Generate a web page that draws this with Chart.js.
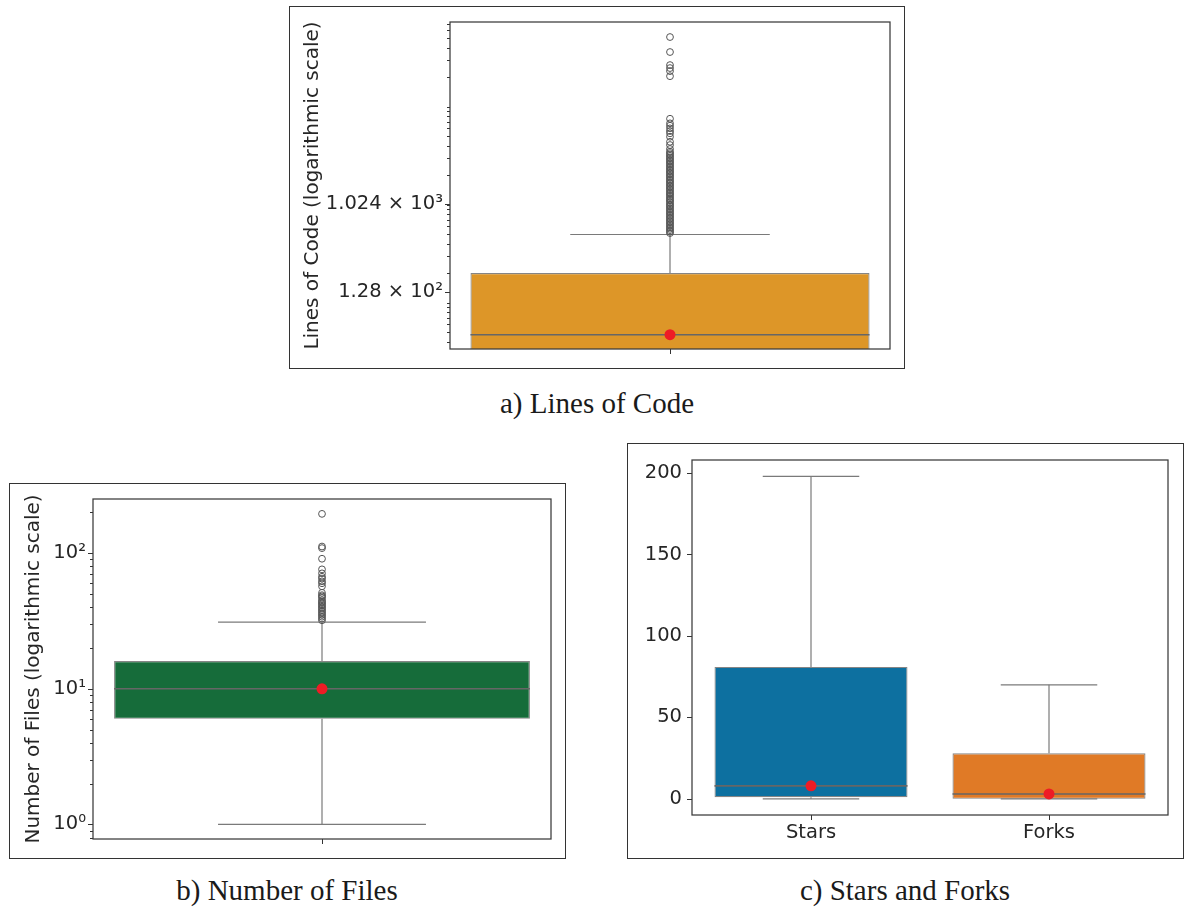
<!DOCTYPE html>
<html>
<head>
<meta charset="utf-8">
<script src="https://cdn.jsdelivr.net/npm/chart.js@4.4.1/dist/chart.umd.min.js"></script>
<style>
  body { margin: 0; width: 1185px; height: 907px; background: #fff; position: relative; overflow: hidden; }
  .frame { position: absolute; border: 1.5px solid #333; box-sizing: border-box; }
  canvas { position: absolute; }
  .cap { position: absolute; font-family: 'Liberation Serif', 'Times New Roman', serif; font-size: 29px;
         color: #1a1a1a; transform: translateX(-50%); white-space: nowrap; line-height: 29px; }
</style>
</head>
<body>
<div class="frame" style="left:289px;top:6px;width:616px;height:363px"></div>
<canvas id="locChart" width="616" height="363" style="left:289px;top:6px"></canvas>
<div class="cap" style="left:597px;top:389px">a) Lines of Code</div>

<div class="frame" style="left:9px;top:483px;width:557px;height:376px"></div>
<canvas id="filesChart" width="557" height="376" style="left:9px;top:483px"></canvas>
<div class="cap" style="left:287px;top:876px">b) Number of Files</div>

<div class="frame" style="left:627px;top:443px;width:557px;height:416px"></div>
<canvas id="starsChart" width="557" height="416" style="left:627px;top:443px"></canvas>
<div class="cap" style="left:905px;top:876px">c) Stars and Forks</div>

<script>
// ---- a) Lines of Code (log axis) ----
const locLabels = [' '];
const locQ1 = [16];
const locQ3 = [200];
const locMedian = [47];
const locMean = [47];
const locLow = [1];
const locHigh = [495];
const locOutliers = [51200, 36000, 26500, 24700, 23000, 20400,
  7510, 6740, 6370, 5990, 5630, 5330, 4920, 4370, 4050, 3690, 3460,
  3350, 3240, 3130, 3020, 2920, 2820, 2730, 2640, 2550, 2460, 2380, 2300, 2220, 2150,
  2080, 2010, 1940, 1880, 1810, 1750, 1690, 1640, 1580, 1530, 1480, 1430, 1380, 1330,
  1290, 1250, 1200, 1160, 1120, 1090, 1050, 1010, 980, 950, 915, 885, 855, 825, 800,
  770, 745, 720, 695, 672, 650, 628, 607, 586, 567, 548, 530, 512];
const locTicks = [40, 50, 60, 70, 80, 90, 100, 128, 200, 300, 400, 500, 600, 700, 800, 900,
  1000, 1024, 2000, 3000, 4000, 5000, 6000, 7000, 8000, 9000, 10000, 20000, 30000, 40000,
  50000, 60000, 70000];
const locTickLabels = { 128: '1.28 × 10²', 1024: '1.024 × 10³' };

// ---- b) Number of Files (log axis) ----
const filesLabels = [' '];
const filesQ1 = [6];
const filesQ3 = [16];
const filesMedian = [10];
const filesMean = [10];
const filesLow = [1];
const filesHigh = [31];
const filesOutliers = [195, 112, 109, 91, 76, 71, 67, 65, 62, 60, 57, 51, 49, 48, 47, 45, 44,
  43, 42, 41, 40, 39, 38, 37, 36, 35, 34, 33, 32];
const filesTicks = [0.8, 0.9, 1, 2, 3, 4, 5, 6, 7, 8, 9, 10, 20, 30, 40, 50, 60, 70, 80, 90, 100, 200];
const filesTickLabels = { 1: '10⁰', 10: '10¹', 100: '10²' };

// ---- c) Stars and Forks ----
const repoLabels = ['Stars', 'Forks'];
const repoQ1 = [1, 0];
const repoQ3 = [81, 28];
const repoMedian = [8, 3];
const repoMean = [8, 3];
const repoLow = [0, 0];
const repoHigh = [198, 70];
const repoTicks = [0, 50, 100, 150, 200];

const textColor = '#262626';
const font = (size) => ({ family: 'DejaVu Sans', size: size });

function line(ctx, x1, y1, x2, y2) {
  ctx.beginPath();
  ctx.moveTo(x1, y1);
  ctx.lineTo(x2, y2);
  ctx.stroke();
}

// whiskers, caps and median, drawn right after the boxes
function boxParts(st) {
  return {
    id: 'boxParts',
    afterDatasetDraw(chart, args) {
      if (args.index !== 0) return;
      const ctx = chart.ctx, y = chart.scales.y, a = chart.chartArea;
      ctx.save();
      ctx.beginPath();
      ctx.rect(a.left, a.top, a.right - a.left, a.bottom - a.top);
      ctx.clip();
      args.meta.data.forEach((bar, i) => {
        const half = bar.width / 2, cap = bar.width / 4;
        const yHi = y.getPixelForValue(st.high[i]);
        const yLo = y.getPixelForValue(st.low[i]);
        const yQ3 = y.getPixelForValue(st.q3[i]);
        const yQ1 = y.getPixelForValue(st.q1[i]);
        const yMed = y.getPixelForValue(st.median[i]);
        ctx.strokeStyle = '#7a7a7a';
        ctx.lineWidth = 1.2;
        line(ctx, bar.x, yQ3, bar.x, yHi);
        line(ctx, bar.x - cap, yHi, bar.x + cap, yHi);
        line(ctx, bar.x, yQ1, bar.x, yLo);
        line(ctx, bar.x - cap, yLo, bar.x + cap, yLo);
        ctx.strokeStyle = '#666';
        ctx.lineWidth = 1.6;
        line(ctx, bar.x - half, yMed, bar.x + half, yMed);
      });
      ctx.restore();
    }
  };
}

// tick marks (major / minor) and the four spines
const axisMarks = {
  id: 'axisMarks',
  afterDraw(chart) {
    const ctx = chart.ctx, a = chart.chartArea, y = chart.scales.y, x = chart.scales.x;
    ctx.save();
    ctx.strokeStyle = '#333';
    ctx.lineWidth = 1;
    y.ticks.forEach(t => {
      const py = Math.round(y.getPixelForValue(t.value)) + 0.5;
      const len = t.label ? 5 : 3;
      line(ctx, a.left - len, py, a.left, py);
    });
    x.ticks.forEach((t, i) => {
      const px = Math.round(x.getPixelForTick(i)) + 0.5;
      line(ctx, px, a.bottom, px, a.bottom + 5);
    });
    ctx.strokeStyle = '#3a3a3a';
    ctx.lineWidth = 1.25;
    ctx.strokeRect(a.left, a.top, a.right - a.left, a.bottom - a.top);
    ctx.restore();
  }
};

function boxChart(id, o) {
  const datasets = [{
    type: 'bar',
    data: o.labels.map((_, i) => [o.q1[i], o.q3[i]]),
    backgroundColor: o.colors,
    borderColor: '#858585',
    borderWidth: 1.2,
    borderSkipped: false,
    barPercentage: o.barPct,
    categoryPercentage: 1,
    order: 3
  }];
  if (o.outliers) {
    datasets.push({
      type: 'line',
      data: o.outliers.map(v => ({ x: o.labels[0], y: v })),
      showLine: false,
      pointRadius: 3.4,
      pointBorderWidth: 1,
      pointBorderColor: '#555',
      pointBackgroundColor: 'rgba(0,0,0,0)',
      order: 2
    });
  }
  datasets.push({
    type: 'line',
    data: o.mean,
    showLine: false,
    pointRadius: 5.5,
    pointBorderWidth: 0,
    pointBackgroundColor: '#EE1C25',
    order: 1
  });

  return new Chart(document.getElementById(id), {
    type: 'bar',
    data: { labels: o.labels, datasets: datasets },
    options: {
      responsive: false,
      animation: false,
      events: [],
      layout: { padding: { top: o.padTop, right: o.padRight, bottom: 0, left: 0 } },
      plugins: { legend: { display: false }, tooltip: { enabled: false } },
      scales: {
        x: {
          type: 'category',
          offset: true,
          grid: { display: false, drawTicks: false, offset: false },
          border: { display: false },
          ticks: { color: textColor, font: font(19.5), padding: 6, maxRotation: 0 },
          afterFit: s => { s.height = o.xHeight; s.paddingLeft = 0; s.paddingRight = 0; }
        },
        y: {
          type: o.yType,
          min: o.yMin,
          max: o.yMax,
          grid: { display: false, drawTicks: false },
          border: { display: false },
          afterBuildTicks: s => { s.ticks = o.ticks.map(v => ({ value: v })); },
          afterFit: s => { s.width = o.yWidth; s.paddingTop = 0; s.paddingBottom = 0; },
          ticks: {
            autoSkip: false,
            color: textColor,
            font: font(19.5),
            padding: o.tickPad,
            callback: o.tickLabel
          },
          title: {
            display: !!o.title,
            text: o.title || '',
            color: textColor,
            font: font(20),
            padding: { top: o.titlePad, bottom: 0 }
          }
        }
      }
    },
    plugins: [boxParts({ q1: o.q1, q3: o.q3, median: o.median, low: o.low, high: o.high }), axisMarks]
  });
}

boxChart('locChart', {
  labels: locLabels, q1: locQ1, q3: locQ3, median: locMedian, mean: locMean,
  low: locLow, high: locHigh, outliers: locOutliers,
  colors: ['#DD9628'], barPct: 0.907,
  yType: 'logarithmic', yMin: 33.6, yMax: 72900, ticks: locTicks,
  tickLabel: v => locTickLabels[v] || '', tickPad: 7,
  title: 'Lines of Code (logarithmic scale)', titlePad: 12,
  yWidth: 161, xHeight: 20, padTop: 16, padRight: 15
});

boxChart('filesChart', {
  labels: filesLabels, q1: filesQ1, q3: filesQ3, median: filesMedian, mean: filesMean,
  low: filesLow, high: filesHigh, outliers: filesOutliers,
  colors: ['#166C3A'], barPct: 0.908,
  yType: 'logarithmic', yMin: 0.78, yMax: 251, ticks: filesTicks,
  tickLabel: v => filesTickLabels[v] || '', tickPad: 7,
  title: 'Number of Files (logarithmic scale)', titlePad: 13,
  yWidth: 84, xHeight: 20, padTop: 16, padRight: 15
});

boxChart('starsChart', {
  labels: repoLabels, q1: repoQ1, q3: repoQ3, median: repoMedian, mean: repoMean,
  low: repoLow, high: repoHigh, outliers: null,
  colors: ['#0D70A0', '#E07A26'], barPct: 0.811,
  yType: 'linear', yMin: -9.9, yMax: 208, ticks: repoTicks,
  tickLabel: v => String(v), tickPad: 10,
  title: null, titlePad: 0,
  yWidth: 65, xHeight: 44, padTop: 17, padRight: 16
});
</script>
</body>
</html>
